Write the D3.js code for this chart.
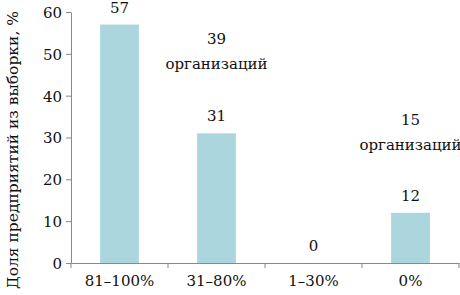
<!DOCTYPE html>
<html><head><meta charset="utf-8">
<script src="https://cdn.jsdelivr.net/npm/d3@7"></script>
<style>body{margin:0;background:#fff}svg{display:block}</style>
</head><body>
<script>
const categories = ["81–100%", "31–80%", "1–30%", "0%"];
const values = [57, 31, 0, 12];
const yTicks = [0, 10, 20, 30, 40, 50, 60];
const noteCats = ["31–80%", "0%"];
const noteCounts = ["39", "15"];
const noteWord = "организаций";
const yLabel = "Доля предприятий из выборки, %";

const W = 460, H = 295;
const font = "DejaVu Serif";
const svg = d3.select("body").append("svg").attr("width", W).attr("height", H);

const x = d3.scaleBand().domain(categories).range([71, 459]).padding(0);
const y = d3.scaleLinear().domain([0, 60]).range([263, 12]);
const bw = x.bandwidth() * 0.4;

svg.selectAll("rect.bar").data(values).enter().append("rect")
  .attr("x", (d, i) => x(categories[i]) + (x.bandwidth() - bw) / 2)
  .attr("y", d => y(d))
  .attr("width", bw)
  .attr("height", d => y(0) - y(d))
  .attr("fill", "#acd6de");

// y axis
const ya = svg.append("g").attr("transform", "translate(71,0)")
  .call(d3.axisLeft(y).tickValues(yTicks).tickSize(5).tickPadding(4).tickSizeOuter(0));
ya.select(".domain").attr("stroke", "#888");
ya.selectAll(".tick line").attr("stroke", "#888");
ya.selectAll("text").attr("font-family", font).attr("font-size", 15).attr("fill", "#111").attr("dy", "0.36em");

// x axis
const xa = svg.append("g").attr("transform", `translate(0,${y(0)})`)
  .call(d3.axisBottom(x).tickSize(0).tickPadding(12).tickSizeOuter(0));
xa.select(".domain").attr("stroke", "#888");
xa.selectAll("text").attr("font-family", font).attr("font-size", 15).attr("fill", "#111");
const bounds = [71].concat(categories.map(c => x(c) + x.bandwidth()));
xa.selectAll("line.sep").data(bounds).enter().append("line").attr("class", "sep")
  .attr("x1", d => d).attr("x2", d => d).attr("y1", 0).attr("y2", 5).attr("stroke", "#888");

// value labels
svg.selectAll("text.val").data(values).enter().append("text")
  .attr("x", (d, i) => x(categories[i]) + x.bandwidth() / 2)
  .attr("y", d => y(d) - 12)
  .attr("text-anchor", "middle").attr("font-family", font).attr("font-size", 15).attr("fill", "#111")
  .text(d => d);

// annotations (anchored above their bars)
const noteLevels = [52.4, 33];
noteCats.forEach((c, i) => {
  const cx = x(c) + x.bandwidth() / 2;
  const by = y(noteLevels[i]);
  svg.append("text").attr("x", cx).attr("y", by).attr("text-anchor", "middle")
    .attr("font-family", font).attr("font-size", 15).attr("fill", "#111").text(noteCounts[i]);
  svg.append("text").attr("x", cx).attr("y", by + 25).attr("text-anchor", "middle")
    .attr("font-family", font).attr("font-size", 15).attr("fill", "#111").text(noteWord);
});

// y label
svg.append("text").attr("transform", `translate(18,${(10 + 290) / 2}) rotate(-90)`)
  .attr("text-anchor", "middle").attr("font-family", font).attr("font-size", 15.5).attr("fill", "#111")
  .text(yLabel);
</script>
</body></html>
